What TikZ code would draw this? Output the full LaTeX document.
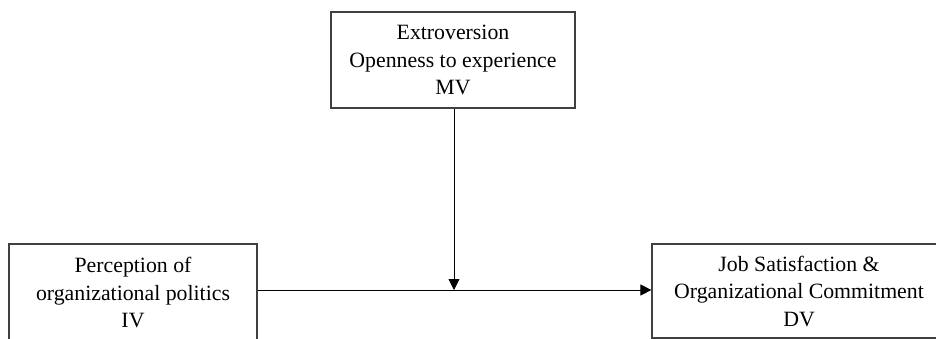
\documentclass[tikz,border=0pt]{standalone}
\usepackage{fontspec}
\setmainfont{Liberation Serif}
\usetikzlibrary{arrows.meta}
\def\boxline{black!75}

\begin{document}
\begin{tikzpicture}[x=1pt,y=-1pt,thick,
  >={Triangle[length=11pt,width=11pt]},
  var box/.style={draw=\boxline,line width=1.2pt,rectangle,align=center,inner sep=0pt,
    font=\fontsize{21.8}{27.5}\selectfont}]
  \useasboundingbox (0,0) rectangle (936,339);

  \node[var box,minimum width=244pt,minimum height=96pt] (mv) at (453,60)
    {Extroversion\\Openness to experience\\MV};
  \node[var box,minimum width=248pt,minimum height=97pt] (iv) at (133,292.5)
    {Perception of\\organizational politics\\IV};
  \node[var box,minimum width=294pt,minimum height=94pt] (dv) at (799,291)
    {Job Satisfaction \&\\Organizational Commitment\\DV};
  \coordinate (mid) at (454,290);

  \path[->,line width=0.9pt]
    (iv.east |- mid) edge (dv.west |- mid)
    (mv.south -| mid) edge (mid);

\end{tikzpicture}
\end{document}
